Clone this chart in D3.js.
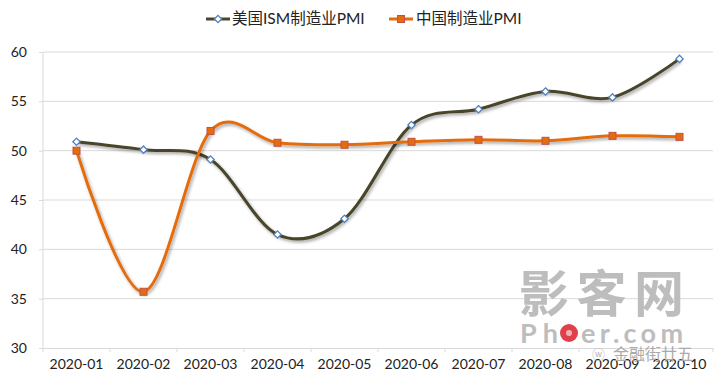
<!DOCTYPE html>
<html>
<head>
<meta charset="utf-8">
<script src="https://cdn.jsdelivr.net/npm/d3@7"></script>
<style>
  body { margin: 0; background: #fff; }
  text { font-family: Lato, "Noto Sans CJK SC", sans-serif; }
</style>
</head>
<body>
<div id="chart"></div>
<script>
// data
var months = ["2020-01", "2020-02", "2020-03", "2020-04", "2020-05", "2020-06", "2020-07", "2020-08", "2020-09", "2020-10"];
var usIsm = [50.9, 50.1, 49.1, 41.5, 43.1, 52.6, 54.2, 56.0, 55.4, 59.3];
var chinaPmi = [50.0, 35.7, 52.0, 50.8, 50.6, 50.9, 51.1, 51.0, 51.5, 51.4];
var yTicks = [30, 35, 40, 45, 50, 55, 60];
var seriesNames = ["美国ISM制造业PMI", "中国制造业PMI"];

var width = 727, height = 387;
var margin = {left: 43, right: 713, top: 52, bottom: 348};

var svg = d3.select("#chart").append("svg")
    .attr("width", width)
    .attr("height", height);

// drop shadow like excel
var defs = svg.append("defs");
var f = defs.append("filter").attr("id", "shadow")
    .attr("x", "-10%").attr("y", "-10%").attr("width", "120%").attr("height", "130%");
f.append("feDropShadow").attr("dx", 1.5).attr("dy", 2).attr("stdDeviation", 1.6)
    .attr("flood-color", "#000").attr("flood-opacity", 0.35);

var x = d3.scaleBand().domain(months).range([margin.left, margin.right]);
var y = d3.scaleLinear().domain([30, 60]).range([margin.bottom, margin.top]);

// gridlines
svg.append("g")
    .selectAll("line").data(yTicks.slice(1)).enter().append("line")
    .attr("x1", margin.left).attr("x2", margin.right)
    .attr("y1", function(d){ return y(d); }).attr("y2", function(d){ return y(d); })
    .attr("stroke", "#d9d9d9").attr("stroke-width", 1);

// y axis
var yAxis = d3.axisLeft(y).tickValues(yTicks).tickSize(4).tickPadding(12);
var gy = svg.append("g").attr("transform", "translate(" + margin.left + ",0)").call(yAxis);
gy.select(".domain").attr("stroke", "#d9d9d9").attr("d", "M0," + margin.top + "V" + margin.bottom);
gy.selectAll(".tick line").attr("stroke", "#d9d9d9");
gy.selectAll("text").attr("font-size", 14).attr("fill", "#222");

// x axis
var xAxis = d3.axisBottom(x).tickSize(0).tickPadding(10);
var gx = svg.append("g").attr("transform", "translate(0," + margin.bottom + ")").call(xAxis);
gx.select(".domain").attr("stroke", "#d9d9d9");
gx.selectAll("text").attr("font-size", 14).attr("fill", "#222").attr("dy", "0.75em");
gx.selectAll(".bandtick").data(months).enter().append("line")
    .attr("x1", function(d){ return x(d) + x.bandwidth(); })
    .attr("x2", function(d){ return x(d) + x.bandwidth(); })
    .attr("y1", 0).attr("y2", 4)
    .attr("stroke", "#d9d9d9");
gx.append("line").attr("x1", margin.left).attr("x2", margin.left).attr("y1", 0).attr("y2", 4).attr("stroke", "#d9d9d9");

// watermark
var wm = svg.append("g").attr("fill", "#bdbdbd").attr("font-weight", "bold");
wm.append("text").text("影客网").attr("x", 519).attr("y", 312)
    .attr("font-size", 50)
    .attr("font-family", "Noto Sans CJK SC").attr("textLength", 165);
wm.append("text").text("Ph").attr("x", 520).attr("y", 343)
    .attr("font-size", 27).attr("textLength", 38);
wm.append("circle").attr("cx", 569).attr("cy", 333).attr("r", 9).attr("fill", "#e0404a");
wm.append("circle").attr("cx", 569).attr("cy", 333).attr("r", 3).attr("fill", "#f3b0b4");
wm.append("text").text("er.com").attr("x", 581).attr("y", 343)
    .attr("font-size", 27).attr("textLength", 102);
wm.append("text").text("金融街廿五").attr("x", 613).attr("y", 360)
    .attr("font-size", 16).attr("font-weight", "normal").attr("fill", "#aaa")
    .attr("font-family", "Noto Sans CJK SC");
wm.append("text").text("ⓦ").attr("x", 592).attr("y", 359)
    .attr("font-size", 13).attr("font-weight", "normal").attr("fill", "#bbb");

var cx = function(d, i){ return x(months[i]) + x.bandwidth() / 2; };
var line = d3.line().x(cx).y(function(d){ return y(d); }).curve(d3.curveCardinal.tension(0));

// lines
svg.append("path").datum(usIsm).attr("d", line)
    .attr("fill", "none").attr("stroke", "#4a452a").attr("stroke-width", 3)
    .attr("filter", "url(#shadow)");
svg.append("path").datum(chinaPmi).attr("d", line)
    .attr("fill", "none").attr("stroke", "#e46c0a").attr("stroke-width", 3)
    .attr("filter", "url(#shadow)");

// markers
var diamond = d3.symbol().type(d3.symbolDiamond2).size(34);
svg.append("g").selectAll("path").data(usIsm).enter().append("path")
    .attr("d", diamond)
    .attr("transform", function(d, i){ return "translate(" + cx(d, i) + "," + y(d) + ")"; })
    .attr("fill", "#fff").attr("stroke", "#4f81bd").attr("stroke-width", 1.3);
svg.append("g").selectAll("rect").data(chinaPmi).enter().append("rect")
    .attr("x", function(d, i){ return cx(d, i) - 3.5; })
    .attr("y", function(d){ return y(d) - 3.5; })
    .attr("width", 7).attr("height", 7)
    .attr("fill", "#e46c0a").attr("stroke", "#c0504d").attr("stroke-width", 1);

// legend
var legend = svg.append("g").attr("font-family", "Noto Sans CJK SC");
var lg1 = legend.append("g").attr("transform", "translate(206,19)");
lg1.append("line").attr("x1", 0).attr("x2", 24).attr("stroke", "#4a452a").attr("stroke-width", 3);
lg1.append("path").attr("d", diamond).attr("transform", "translate(12,0)")
    .attr("fill", "#fff").attr("stroke", "#4f81bd").attr("stroke-width", 1.3);
lg1.append("text").text(seriesNames[0]).attr("x", 26).attr("dy", "0.35em")
    .attr("font-size", 15.5).attr("fill", "#222");
var lg2 = legend.append("g").attr("transform", "translate(389,19)");
lg2.append("line").attr("x1", 0).attr("x2", 24).attr("stroke", "#e46c0a").attr("stroke-width", 3);
lg2.append("rect").attr("x", 8.5).attr("y", -3.5).attr("width", 7).attr("height", 7)
    .attr("fill", "#e46c0a").attr("stroke", "#c0504d");
lg2.append("text").text(seriesNames[1]).attr("x", 27).attr("dy", "0.35em")
    .attr("font-size", 15.5).attr("fill", "#222");
</script>
</body>
</html>
